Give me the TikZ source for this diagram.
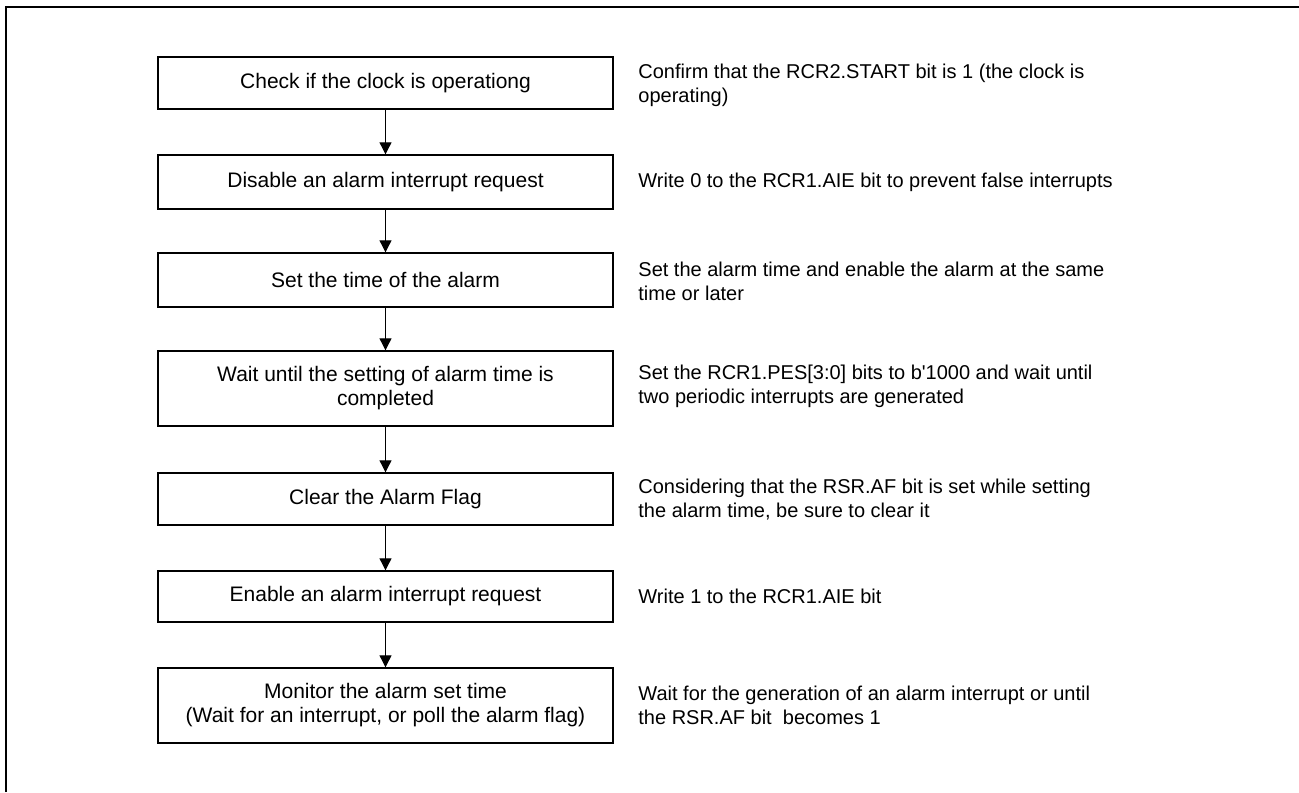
\documentclass[tikz,border=0pt]{standalone}
\usepackage{fontspec}
\setmainfont{Liberation Sans}
\usetikzlibrary{arrows.meta}
\begin{document}
\begin{tikzpicture}[x=0.5pt,y=-0.5pt,
  stepbox/.style={draw, line width=0.7pt, minimum width=227.5pt, inner sep=0pt,
    align=center, font=\fontsize{10.5pt}{12pt}\selectfont},
  note/.style={anchor=west, align=left, inner sep=0pt,
    font=\fontsize{10pt}{12pt}\selectfont},
  flow/.style={-{Triangle[length=6pt,width=6pt]}, line width=0.55pt}]
\useasboundingbox (0,0) rectangle (1299,792);
% outer frame
\draw[line width=1pt] (6,792) -- (6,7) -- (1299,7);

% procedure steps
\node[stepbox, minimum height=26pt]   (s1) at (385.5,83)    {Check if the clock is operationg};
\node[stepbox, minimum height=27pt]   (s2) at (385.5,182)   {Disable an alarm interrupt request};
\node[stepbox, minimum height=27pt]   (s3) at (385.5,280)   {Set the time of the alarm};
\node[stepbox, minimum height=37.5pt] (s4) at (385.5,388.5) {Wait until the setting of alarm time is\\completed};
\node[stepbox, minimum height=26pt]   (s5) at (385.5,499)   {Clear the Alarm Flag};
\node[stepbox, minimum height=25.5pt] (s6) at (385.5,596.5) {Enable an alarm interrupt request};
\node[stepbox, minimum height=37.5pt] (s7) at (385.5,705.5) {Monitor the alarm set time\\(Wait for an interrupt, or poll the alarm flag)};

% flow arrows
\draw[flow] (s1) -- (s2);
\draw[flow] (s2) -- (s3);
\draw[flow] (s3) -- (s4);
\draw[flow] (s4) -- (s5);
\draw[flow] (s5) -- (s6);
\draw[flow] (s6) -- (s7);

% explanatory notes
\node[note] (n1) at (638,85)    {Confirm that the RCR2.START bit is 1 (the clock is\\operating)};
\node[note] (n2) at (638,182)   {Write 0 to the RCR1.AIE bit to prevent false interrupts};
\node[note] (n3) at (638,281)   {Set the alarm time and enable the alarm at the same\\time or later};
\node[note] (n4) at (638,386)   {Set the RCR1.PES[3:0] bits to b\textquotesingle1000 and wait until\\two periodic interrupts are generated};
\node[note] (n5) at (638,500)   {Considering that the RSR.AF bit is set while setting\\the alarm time, be sure to clear it};
\node[note] (n6) at (638,596.5) {Write 1 to the RCR1.AIE bit};
\node[note] (n7) at (638,705.5) {Wait for the generation of an alarm interrupt or until\\the RSR.AF bit\ \ becomes 1};
\end{tikzpicture}
\end{document}
